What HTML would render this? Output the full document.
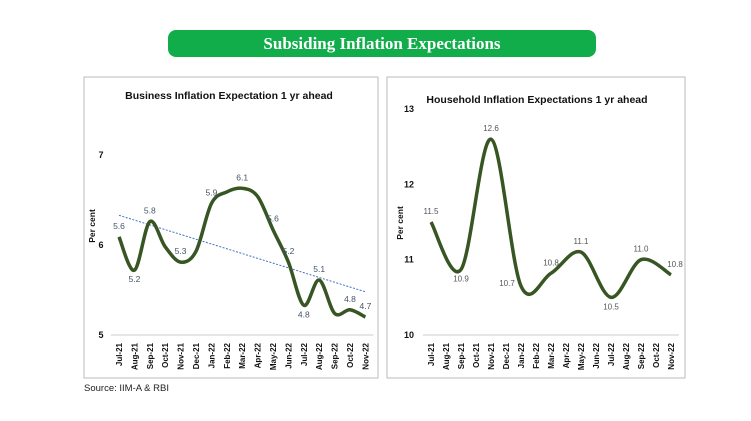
<!DOCTYPE html>
<html><head><meta charset="utf-8"><style>
body{margin:0;width:751px;height:421px;background:#fff;overflow:hidden;font-family:"Liberation Sans",sans-serif}
#banner{position:absolute;left:168px;top:30px;width:428px;height:27px;background:#12ad4b;border-radius:8px;color:#fff;font:bold 17px "Liberation Serif",serif;text-align:center;line-height:27px}
#src{position:absolute;left:84px;top:383px;font-size:9.5px;color:#222}
</style></head><body>
<div id="banner">Subsiding Inflation Expectations</div>
<svg id="svg" width="751" height="421" style="position:absolute;left:0;top:0"></svg>
<div id="src">Source: IIM-A &amp; RBI</div>
<script>
const months=["Jul-21","Aug-21","Sep-21","Oct-21","Nov-21","Dec-21","Jan-22","Feb-22","Mar-22","Apr-22","May-22","Jun-22","Jul-22","Aug-22","Sep-22","Oct-22","Nov-22"];
const bizValues=[6.09,5.72,6.26,5.98,5.81,5.93,6.46,6.59,6.63,6.54,6.17,5.81,5.33,5.61,5.24,5.28,5.2];
const bizLabels=["5.6","5.2","5.8","","5.3","","5.9","","6.1","","5.6","5.2","4.8","5.1","","4.8","4.7"];
const bizTrend=[6.33,5.48];
const bizTicks=[5,6,7];
const hhIdx=[0,2,4,6,8,10,12,14,16];
const hhValues=[11.5,10.87,12.6,10.65,10.82,11.1,10.5,11.0,10.8];
const hhLabels=["11.5","10.9","12.6","10.7","10.8","11.1","10.5","11.0","10.8"];
const hhTicks=[10,11,12,13];
const NS="http://www.w3.org/2000/svg";
const svg=document.getElementById('svg');
function mk(t,a,txt){const e=document.createElementNS(NS,t);for(const k in a)e.setAttribute(k,a[k]);if(txt!==undefined)e.textContent=txt;svg.appendChild(e);return e;}
function smooth(p){let d=`M${p[0][0]},${p[0][1]}`;for(let i=0;i<p.length-1;i++){const p0=p[i-1]||p[i],p1=p[i],p2=p[i+1],p3=p[i+2]||p2;d+=` C${p1[0]+(p2[0]-p0[0])/6},${p1[1]+(p2[1]-p0[1])/6} ${p2[0]-(p3[0]-p1[0])/6},${p2[1]-(p3[1]-p1[1])/6} ${p2[0]},${p2[1]}`;}return d;}
function panel(o){
  let r=mk('rect',{x:o.bx,y:77,width:o.bw,height:301,fill:'#fff',stroke:'#bbb','stroke-width':1});
  
  let t=mk('text',{x:o.tx,y:o.ty,'font-size':10.5,'font-weight':'bold','text-anchor':'middle',fill:'#111'},o.title);
  
  const X=i=>o.x0+i*o.step, Y=v=>o.y0-(v-o.vmin)*o.k;
  mk('line',{x1:X(0)-8,x2:X(16)+8,y1:Y(o.vmin),y2:Y(o.vmin),stroke:'#ccc'});
  o.ticks.forEach(v=>{let e=mk('text',{x:o.ax,y:Y(v)+3,'font-size':9,'font-weight':'bold','text-anchor':'middle',fill:'#111'},v);
    });
  let yl=mk('text',{transform:`translate(${o.ax-6},${o.ylY}) rotate(-90)`,'font-size':8.5,'font-weight':'bold','text-anchor':'middle',fill:'#111'},'Per cent');
  
  months.forEach((m,i)=>{let e=mk('text',{transform:`translate(${X(i)+3},${Y(o.vmin)+8}) rotate(-90)`,'font-size':8,'font-weight':'bold','text-anchor':'end',fill:'#111'},m);
    });
  return {X,Y};
}
// business
const b=panel({name:'business',bx:84,bw:294,tx:229,ty:99,title:'Business Inflation Expectation 1 yr ahead',x0:119,step:15.4,y0:335,vmin:5,k:90,ticks:bizTicks,ax:101,ylY:226});
let tr=mk('line',{x1:b.X(0),y1:b.Y(bizTrend[0]),x2:b.X(16),y2:b.Y(bizTrend[1]),stroke:'#4472c4','stroke-width':1,'stroke-dasharray':'2,1.5'});

let bl=mk('path',{d:smooth(bizValues.map((v,i)=>[b.X(i),b.Y(v)])),fill:'none',stroke:'#375623','stroke-width':3.5});

bizLabels.forEach((l,i)=>{if(!l)return;const dn=(i==1||i==12);let e=mk('text',{x:b.X(i),y:b.Y(bizValues[i])+(dn?12:-8),'font-size':8.5,'text-anchor':'middle',fill:'#44546a'},l);
  });
// household
const h=panel({name:'household',bx:387,bw:298,tx:537,ty:103,title:'Household Inflation Expectations 1 yr ahead',x0:431,step:15,y0:335,vmin:10,k:75.3,ticks:hhTicks,ax:409,ylY:223});
let hl=mk('path',{d:smooth(hhValues.map((v,j)=>[h.X(hhIdx[j]),h.Y(v)])),fill:'none',stroke:'#375623','stroke-width':3.5});

hhLabels.forEach((l,j)=>{const i=hhIdx[j];const dn=(j==1||j==6);let dx=(j==3?-14:j==8?4:0);let e=mk('text',{x:h.X(i)+dx,y:h.Y(hhValues[j])+(dn?12:(j==3?0:-8)),'font-size':8,'text-anchor':'middle',fill:'#555'},l);
  });
</script>
</body></html>
